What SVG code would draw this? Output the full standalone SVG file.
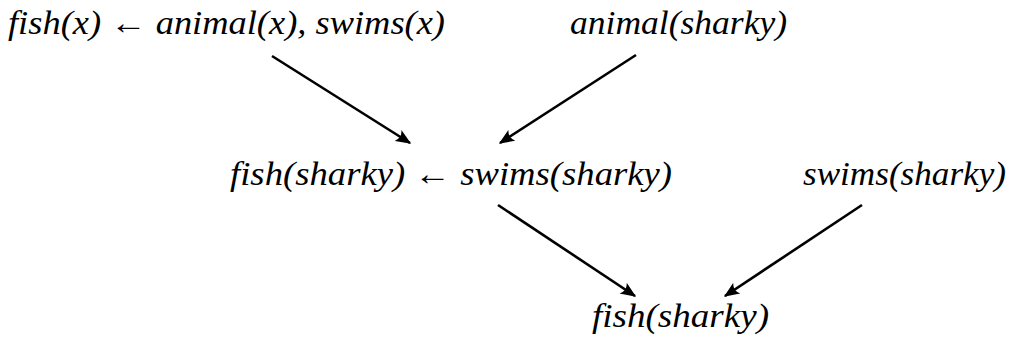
<svg xmlns="http://www.w3.org/2000/svg" width="1013" height="340" viewBox="0 0 1013 340">
<style>
.e{stroke:#000;stroke-width:2.6;fill:none}
</style>
<defs>
<marker id="ah" viewBox="0 0 12 10" refX="11" refY="5" markerWidth="6" markerHeight="5" markerUnits="strokeWidth" orient="auto">
<path d="M0,0 Q4,5 0,10 L12,5 Z" fill="#000"/>
</marker>
</defs>
<rect width="1013" height="340" fill="#fff"/>
<g id="connectors">
<line class="e" x1="272" y1="56" x2="410" y2="143" marker-end="url(#ah)"/>
<line class="e" x1="636" y1="55" x2="500" y2="143" marker-end="url(#ah)"/>
<line class="e" x1="498" y1="205" x2="635" y2="296" marker-end="url(#ah)"/>
<line class="e" x1="862" y1="205" x2="725" y2="296" marker-end="url(#ah)"/>
</g>
<g id="n1"><text x="8" y="34" font-family="Liberation Serif" font-size="34" font-style="italic" textLength="437" lengthAdjust="spacingAndGlyphs">fish(x) ← animal(x), swims(x)</text></g>
<g id="n2"><text x="570" y="34" font-family="Liberation Serif" font-size="34" font-style="italic" textLength="217" lengthAdjust="spacingAndGlyphs">animal(sharky)</text></g>
<g id="n3"><text x="230" y="185" font-family="Liberation Serif" font-size="34" font-style="italic" textLength="442" lengthAdjust="spacingAndGlyphs">fish(sharky) ← swims(sharky)</text></g>
<g id="n4"><text x="803" y="185" font-family="Liberation Serif" font-size="34" font-style="italic" textLength="203" lengthAdjust="spacingAndGlyphs">swims(sharky)</text></g>
<g id="n5"><text x="592" y="327" font-family="Liberation Serif" font-size="34" font-style="italic" textLength="177" lengthAdjust="spacingAndGlyphs">fish(sharky)</text></g>
</svg>
